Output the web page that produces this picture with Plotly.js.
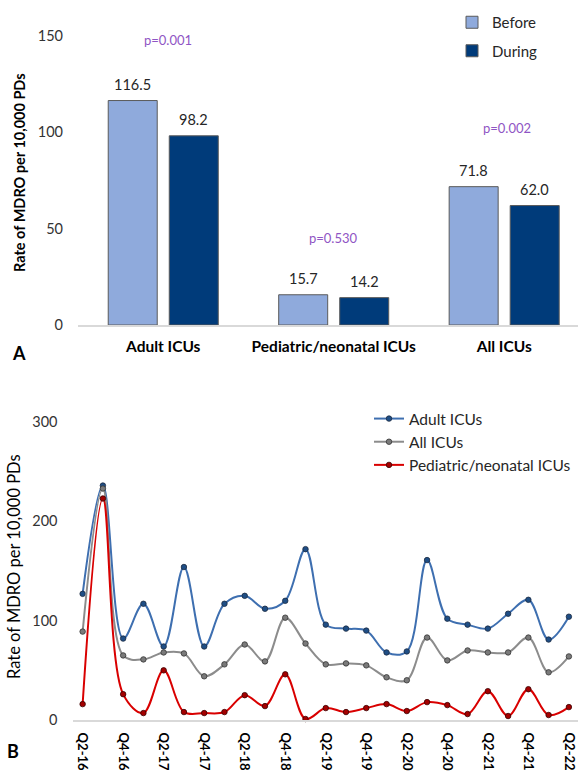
<!DOCTYPE html>
<html>
<head>
<meta charset="utf-8">
<script src="https://cdn.plot.ly/plotly-3.0.1.min.js"></script>
<style>
html,body{margin:0;padding:0;background:#fff;}
#chart{width:578px;height:773px;}
</style>
</head>
<body>
<div id="chart"></div>
<script>
// ---- Panel A data ----
const icuGroups = ["Adult ICUs", "Pediatric/neonatal ICUs", "All ICUs"];
const beforeRates = [116.5, 15.7, 71.8];
const duringRates = [98.2, 14.2, 62.0];
const pValues = ["p=0.001", "p=0.530", "p=0.002"];

// ---- Panel B data ----
const quarters = ["Q2-16","Q3-16","Q4-16","Q1-17","Q2-17","Q3-17","Q4-17","Q1-18","Q2-18","Q3-18","Q4-18","Q1-19","Q2-19","Q3-19","Q4-19","Q1-20","Q2-20","Q3-20","Q4-20","Q1-21","Q2-21","Q3-21","Q4-21","Q1-22","Q2-22"];
const adultICU = [127, 236, 82, 117, 74, 154, 74, 117, 125, 112, 120, 172, 96, 92, 90, 68, 69, 161, 102, 96, 92, 107, 121, 81, 104];
const allICU   = [89, 233, 65, 61, 68, 67, 44, 56, 76, 59, 103, 77, 56, 57, 55, 43, 40, 83, 60, 70, 68, 68, 83, 48, 64];
const pedICU   = [16, 223, 26, 7, 50, 8, 7, 8, 25, 14, 46, 1, 12, 8, 12, 16, 9, 18, 15, 6, 29, 4, 31, 5, 13];

const W = 578, H = 773;
const FONT = "Lato, 'Open Sans', sans-serif";
const px = v => v / W;
const py = v => 1 - v / H;

const traces = [
  {type:"bar", name:"Before", x:icuGroups, y:beforeRates, xaxis:"x", yaxis:"y",
   marker:{color:"#8faadc", line:{color:"#5a5a5a", width:1}},
   legend:"legend", legendgroup:"b", hoverinfo:"x+y"},
  {type:"bar", name:"During", x:icuGroups, y:duringRates, xaxis:"x", yaxis:"y",
   marker:{color:"#003b7a", line:{color:"#5a5a5a", width:1}},
   legend:"legend", legendgroup:"d", hoverinfo:"x+y"},
  {type:"scatter", mode:"lines+markers", name:"Adult ICUs", x:quarters, y:adultICU, xaxis:"x2", yaxis:"y2",
   line:{color:"#3e6fb0", width:2, shape:"spline", smoothing:1},
   marker:{color:"#1f4e85", size:5.5, line:{color:"#1a2a40", width:0.8}}, legend:"legend2", cliponaxis:false},
  {type:"scatter", mode:"lines+markers", name:"All ICUs", x:quarters, y:allICU, xaxis:"x2", yaxis:"y2",
   line:{color:"#8c8c8c", width:2, shape:"spline", smoothing:1},
   marker:{color:"#7a7a7a", size:5.5, line:{color:"#333333", width:0.8}}, legend:"legend2", cliponaxis:false},
  {type:"scatter", mode:"lines+markers", name:"Pediatric/neonatal ICUs", x:quarters, y:pedICU, xaxis:"x2", yaxis:"y2",
   line:{color:"#d90000", width:2, shape:"spline", smoothing:1},
   marker:{color:"#a30000", size:5.5, line:{color:"#3a0000", width:0.8}}, legend:"legend2", cliponaxis:false}
];

const pShift = [5, 0, 3];
const pY = [148, 45, 102];

const annotations = pValues.map((t,i)=>({
  xref:"x", yref:"y", x:icuGroups[i], y:pY[i], text:t, showarrow:false, xshift:pShift[i],
  font:{family:FONT, size:13, color:"#8f55c4"}
}));

// value labels above each bar
const barOffset = 30.5;
icuGroups.forEach((g,i)=>{
  annotations.push({xref:"x", yref:"y", x:g, y:beforeRates[i], text:beforeRates[i].toFixed(1),
    showarrow:false, xshift:-barOffset, yanchor:"bottom", yshift:6,
    font:{family:FONT, size:14.5, color:"#262626"}});
  annotations.push({xref:"x", yref:"y", x:g, y:duringRates[i], text:duringRates[i].toFixed(1),
    showarrow:false, xshift:barOffset, yanchor:"bottom", yshift:6,
    font:{family:FONT, size:14.5, color:"#262626"}});
});

annotations.push(
  {xref:"paper", yref:"paper", x:px(19), y:py(173), text:"<b>Rate of MDRO per 10,000 PDs</b>", textangle:-90,
   showarrow:false, xanchor:"center", yanchor:"middle", font:{family:FONT, size:14.5, color:"#000"}},
  {xref:"paper", yref:"paper", x:px(14), y:py(567), text:"Rate of MDRO per 10,000 PDs", textangle:-90,
   showarrow:false, xanchor:"center", yanchor:"middle", font:{family:FONT, size:16.5, color:"#000"}},
  {xref:"paper", yref:"paper", x:px(19), y:py(353), text:"<b>A</b>", showarrow:false,
   xanchor:"center", yanchor:"middle", font:{family:FONT, size:18, color:"#000"}},
  {xref:"paper", yref:"paper", x:px(13), y:py(751), text:"<b>B</b>", showarrow:false,
   xanchor:"center", yanchor:"middle", font:{family:FONT, size:18, color:"#000"}}
);

const evenQuarters = quarters.filter((q,i)=>i%2===0);

const layout = {
  width:W, height:H, margin:{l:0,r:0,t:0,b:0}, paper_bgcolor:"#fff", plot_bgcolor:"#fff",
  font:{family:FONT, color:"#262626"},
  barmode:"group", bargap:0.284, bargroupgap:0.197,
  showlegend:true,
  xaxis:{domain:[px(78),1], anchor:"y", type:"category", range:[-0.5, 2.433],
    showline:true, linecolor:"#d9d9d9", linewidth:1.5, ticks:"", showgrid:false, zeroline:false,
    tickfont:{family:FONT, size:15.5, color:"#000", weight:"bold"}, ticklabelstandoff:7, automargin:false},
  yaxis:{domain:[py(325), py(36)], anchor:"x", range:[0,150], tickvals:[0,50,100,150],
    showgrid:false, zeroline:false, showline:false, ticks:"",
    tickfont:{family:FONT, size:14.5, color:"#333333"}, ticklabelstandoff:14, automargin:false},
  xaxis2:{domain:[px(72.5),1], anchor:"y2", type:"category", range:[-0.5, 24.45],
    showline:true, linecolor:"#d9d9d9", linewidth:2, ticks:"", showgrid:false, zeroline:false,
    tickmode:"array", tickvals:evenQuarters, ticktext:evenQuarters, tickangle:90,
    tickfont:{family:FONT, size:13, color:"#000", weight:"bold"}, ticklabelstandoff:8, automargin:false},
  yaxis2:{domain:[py(720), py(422)], anchor:"x2", range:[0,300], tickvals:[0,100,200,300],
    showgrid:false, zeroline:false, showline:false, ticks:"",
    tickfont:{family:FONT, size:14.5, color:"#333333"}, ticklabelstandoff:14, automargin:false},
  legend:{x:px(452), y:py(6), xanchor:"left", yanchor:"top", bgcolor:"rgba(0,0,0,0)",
    font:{family:FONT, size:15, color:"#262626"}, tracegroupgap:6, orientation:"v"},
  legend2:{x:px(369), y:py(402), xanchor:"left", yanchor:"top", bgcolor:"rgba(0,0,0,0)",
    font:{family:FONT, size:15.5, color:"#262626"}, tracegroupgap:0, orientation:"v"},
  annotations:annotations
};

Plotly.newPlot("chart", traces, layout, {displayModeBar:false, staticPlot:true});
</script>
</body>
</html>
